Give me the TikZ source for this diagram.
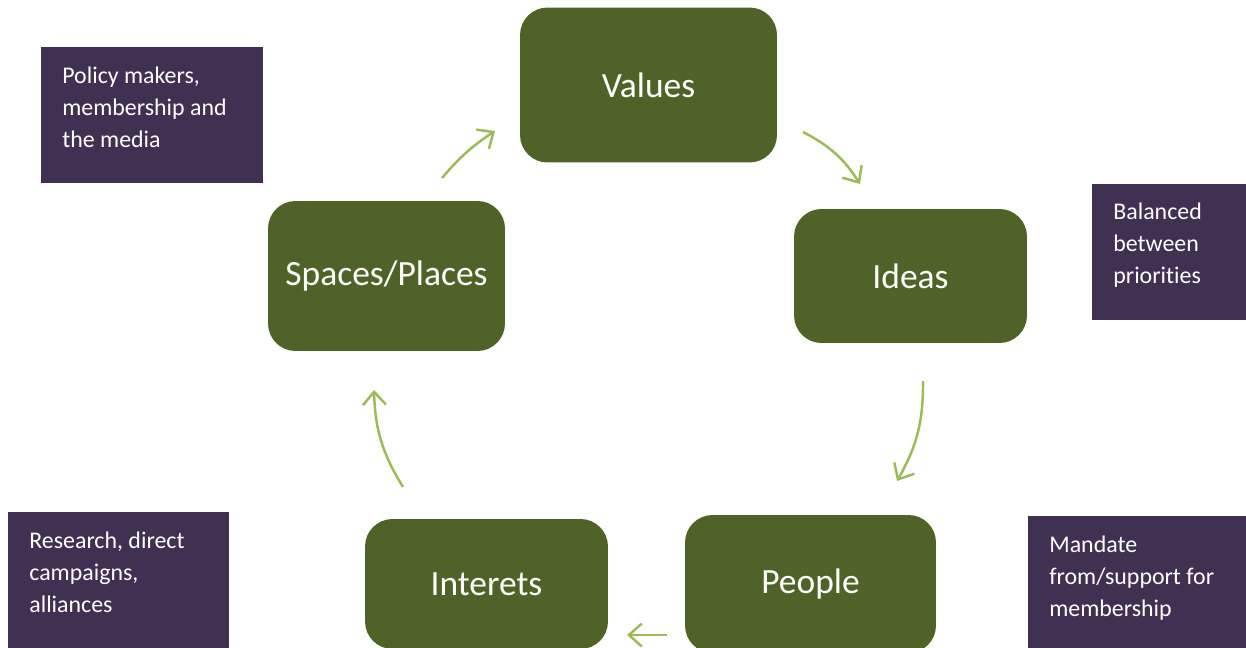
\documentclass[tikz,border=0pt]{standalone}
\usepackage{fontspec}
\setmainfont{Carlito}[Ligatures=NoCommon]
\usetikzlibrary{positioning,arrows.meta}
\definecolor{stage}{HTML}{4F6228}
\definecolor{note}{HTML}{403152}
\definecolor{flow}{HTML}{9BBB59}

\begin{document}
\begin{tikzpicture}[x=0.02cm, y=-0.02cm,
  stagebox/.style={rectangle, rounded corners=0.55cm, fill=stage, text=white,
    font=\fontsize{20.2}{24}\selectfont, inner sep=0pt},
  notebox/.style={rectangle, fill=note, inner sep=0pt, anchor=north west},
  notetext/.style={anchor=north west, text=white, align=left, inner sep=0pt,
    font=\fontsize{13.6}{18.2}\selectfont},
  cycle/.style={-{Straight Barb[length=0.26cm, width=0.46cm, line width=1.4pt]},
    line width=1.4pt, flow}]
\useasboundingbox (0,0) rectangle (1246,648);
% the five stages
\node[stagebox, minimum width=5.14cm, minimum height=3.1cm] (values) at (648.5,85) {Values};
\node[stagebox, minimum width=4.66cm, minimum height=2.68cm] (ideas) at (910.5,276) {Ideas};
\node[stagebox, minimum width=5.02cm, minimum height=2.76cm] (people) at (810.5,584) {People};
\node[stagebox, minimum width=4.86cm, minimum height=2.6cm] (interets) at (486.5,584) {Interets};
\node[stagebox, minimum width=4.74cm, minimum height=3.0cm] (spaces) at (386.5,276) {Spaces/Places};
% side notes
\node[notebox, minimum width=4.44cm, minimum height=2.72cm] (policy) at (41,47) {};
\node[notetext] (policytxt) at (62,67) {Policy makers,\\membership and\\the media};
\node[notebox, minimum width=3.1cm, minimum height=2.72cm] (balance) at (1092,184) {};
\node[notetext] (balancetxt) at (1113,203) {Balanced\\between\\priorities};
\node[notebox, minimum width=4.42cm, minimum height=2.8cm] (research) at (8,512) {};
\node[notetext] (researchtxt) at (29,532) {Research, direct\\campaigns,\\alliances};
\node[notebox, minimum width=4.4cm, minimum height=2.7cm] (mandate) at (1028,516) {};
\node[notetext] (mandatetxt) at (1049,536) {Mandate\\from/support for\\membership};
% arrow ends
\coordinate (sv1) at (442,178);  \coordinate (sv2) at (495,131);
\coordinate (vi1) at (803,132);  \coordinate (vi2) at (860,184);
\coordinate (ip1) at (923,381);  \coordinate (ip2) at (897,481);
\coordinate (pi1) at (667,635);  \coordinate (pi2) at (627,635);
\coordinate (is1) at (403,487);  \coordinate (is2) at (374,390);
\draw[cycle] (sv1) to[bend left=8] (sv2);
\draw[cycle] (vi1) to[bend left=15] (vi2);
\draw[cycle] (ip1) to[bend left=15] (ip2);
\draw[cycle] (pi1) -- (pi2);
\draw[cycle] (is1) to[bend left=15] (is2);
\end{tikzpicture}
\end{document}
